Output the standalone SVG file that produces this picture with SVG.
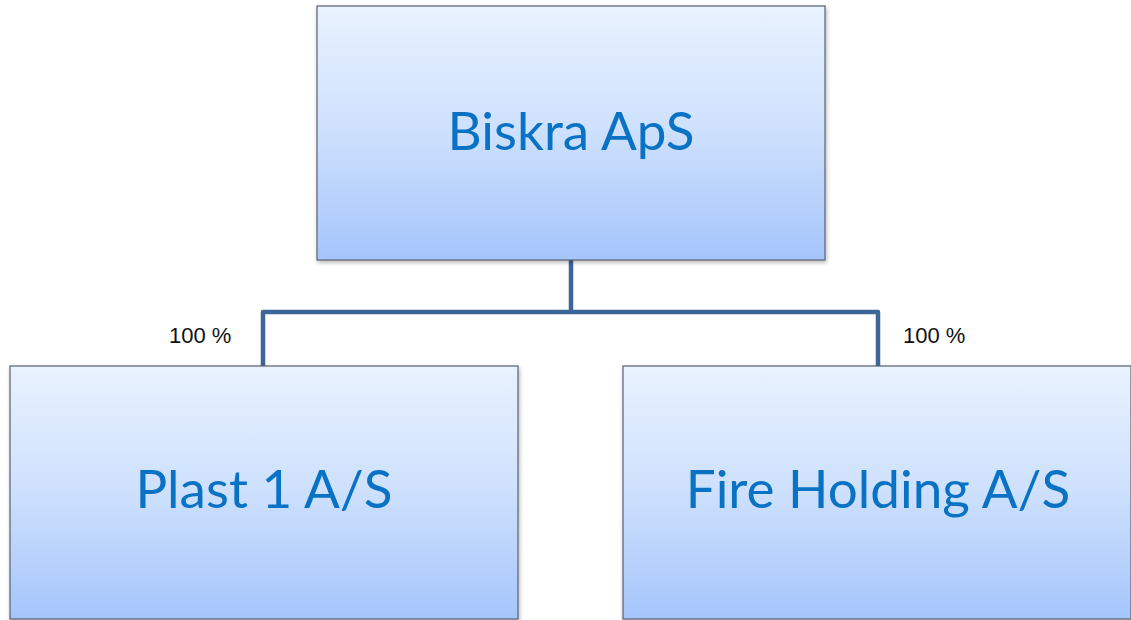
<svg xmlns="http://www.w3.org/2000/svg" width="1131" height="620" viewBox="0 0 1131 620">
  <defs>
    <linearGradient id="boxFill" x1="0" y1="0" x2="0" y2="1">
      <stop offset="0" stop-color="#e9f2fe"/>
      <stop offset="0.5" stop-color="#cde0fd"/>
      <stop offset="1" stop-color="#a5c5fb"/>
    </linearGradient>
    <filter id="shadow" x="-5%" y="-5%" width="110%" height="110%">
      <feGaussianBlur in="SourceAlpha" stdDeviation="2"/>
      <feOffset dx="1" dy="2" result="b"/>
      <feComponentTransfer><feFuncA type="linear" slope="0.3"/></feComponentTransfer>
      <feMerge><feMergeNode/><feMergeNode in="SourceGraphic"/></feMerge>
    </filter>
  </defs>
  <style>
    .box { fill: url(#boxFill); stroke: #5a6270; stroke-width: 1.2; filter: url(#shadow); }
    .name { font-family: Lato, "Noto Sans", sans-serif; font-size: 53px; fill: #0a72c4; text-anchor: middle; }
    .pct { font-family: "Liberation Sans", Arial, sans-serif; font-size: 22px; fill: #111; }
    .link { fill: none; stroke: #3d6597; stroke-width: 4.5; stroke-linejoin: round; }
  </style>
  <rect width="1131" height="620" fill="#ffffff"/>

  <g id="connectors">
    <path class="link" d="M571 260 V312 M263 366 V312 H878 V366"/>
    <text class="pct" x="169" y="343">100 %</text>
    <text class="pct" x="903" y="343">100 %</text>
  </g>

  <g id="biskra">
    <rect class="box" x="317" y="6" width="508" height="254"/>
    <text class="name" x="571" y="150">Biskra ApS</text>
  </g>

  <g id="plast">
    <rect class="box" x="10" y="366" width="508" height="253"/>
    <text class="name" x="264" y="508">Plast 1 A/S</text>
  </g>

  <g id="fire">
    <rect class="box" x="623" y="366" width="508" height="253"/>
    <text class="name" x="878" y="508">Fire Holding A/S</text>
  </g>
</svg>
